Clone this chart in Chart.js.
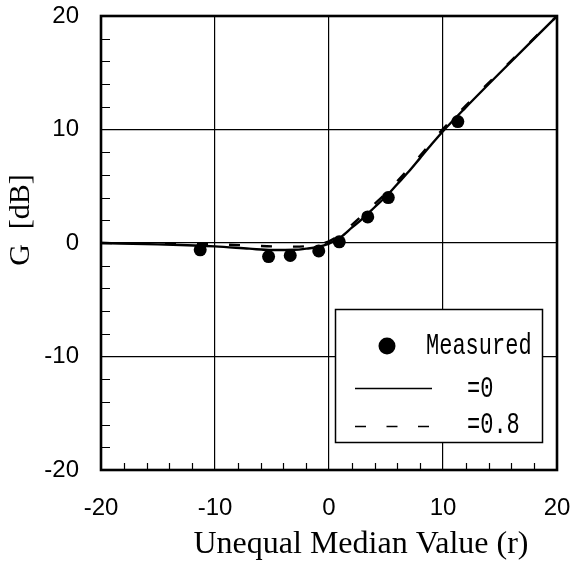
<!DOCTYPE html>
<html>
<head>
<meta charset="utf-8">
<script src="https://cdn.jsdelivr.net/npm/chart.js@4/dist/chart.umd.min.js"></script>
<style>
html,body{margin:0;padding:0;background:#fff;}
#wrap{width:572px;height:568px;}
canvas{display:block;}
</style>
</head>
<body>
<div id="wrap"><canvas id="c" width="572" height="568"></canvas></div>
<script>
// ---- data ----
const measuredR = [-11.3, -5.3, -3.4, -0.9, 0.9, 3.4, 5.2, 11.3];
const measuredG = [-0.6, -1.2, -1.1, -0.7, 0.1, 2.3, 4.0, 10.7];

const rho0R = [-20, -15, -10, -7, -5, -3, -2, -1, 0, 1, 2, 3, 4, 5, 6, 7, 8, 9, 10, 12, 15, 20];
const rho0G = [0, -0.12, -0.3, -0.5, -0.62, -0.6, -0.5, -0.35, -0.05, 0.5, 1.35, 2.2, 3.15, 4.1, 5.2, 6.3, 7.5, 8.7, 9.85, 11.95, 15.0, 20.0];

const rho08R = [-20, -15, -10, -7, -5, -3, -2, -1, 0, 1, 2, 3, 4, 5, 6, 7, 8, 9, 10, 12, 15, 20];
const rho08G = [0, -0.05, -0.12, -0.22, -0.3, -0.32, -0.28, -0.15, 0.15, 0.75, 1.6, 2.5, 3.45, 4.4, 5.45, 6.55, 7.7, 8.9, 10.05, 12.1, 15.1, 20.0];

const seriesLabels = ['Measured', '=0', '=0.8'];
const xTickValues = [-20, -10, 0, 10, 20];
const yTickValues = [-20, -10, 0, 10, 20];
const xTitle = 'Unequal Median Value (r)';
const yTitle = 'G  [dB]';

const toXY = (xs, ys) => xs.map((x, i) => ({x: x, y: ys[i]}));

const minorTicks = {
  id: 'minorTicks',
  afterDatasetsDraw(chart) {
    const {ctx, chartArea: a, scales: {x, y}} = chart;
    ctx.save();
    ctx.strokeStyle = '#000';
    ctx.lineWidth = 1.2;
    ctx.beginPath();
    for (let v = -18; v <= 18; v += 2) {
      if (v % 10 === 0) continue;
      const py = Math.round(y.getPixelForValue(v)) + 0.5;
      ctx.moveTo(a.left, py); ctx.lineTo(a.left + 9, py);
      const px = Math.round(x.getPixelForValue(v)) + 0.5;
      ctx.moveTo(px, a.bottom); ctx.lineTo(px, a.bottom - 7);
    }
    ctx.stroke();
    ctx.lineWidth = 2.6;
    ctx.strokeRect(a.left, a.top, a.right - a.left, a.bottom - a.top);
    ctx.restore();
  }
};

const axisTitles = {
  id: 'axisTitles',
  afterDraw(chart) {
    const {ctx} = chart;
    ctx.save();
    ctx.fillStyle = '#000';
    ctx.textAlign = 'center';
    ctx.textBaseline = 'middle';
    ctx.font = '32px "Liberation Serif", "Times New Roman"';
    ctx.fillText(xTitle, 361, 545);
    ctx.translate(21, 220);
    ctx.rotate(-Math.PI / 2);
    ctx.font = '30px "Liberation Serif", "Times New Roman"';
    ctx.fillText(yTitle, 0, 0);
    ctx.restore();
  }
};

const boxLegend = {
  id: 'boxLegend',
  afterDraw(chart) {
    const {ctx} = chart;
    const ds = chart.data.datasets;
    ctx.save();
    ctx.fillStyle = '#fff';
    ctx.fillRect(335, 309, 208, 134);
    ctx.strokeStyle = '#000';
    ctx.lineWidth = 1.5;
    ctx.strokeRect(335.5, 309.5, 207, 133);
    ctx.fillStyle = ds[0].backgroundColor;
    ctx.beginPath();
    ctx.arc(387, 346, 8.5, 0, Math.PI * 2);
    ctx.fill();
    ctx.strokeStyle = ds[1].borderColor;
    ctx.lineWidth = 1.3;
    ctx.setLineDash([]);
    ctx.beginPath(); ctx.moveTo(355, 388.5); ctx.lineTo(432, 388.5); ctx.stroke();
    ctx.setLineDash([11, 20.5]);
    ctx.beginPath(); ctx.moveTo(355, 426.5); ctx.lineTo(432, 426.5); ctx.stroke();
    ctx.setLineDash([]);
    ctx.fillStyle = '#000';
    ctx.font = '22px "Liberation Mono"';
    ctx.textBaseline = 'middle';
    ctx.textAlign = 'left';
    const rows = [[426, 346, ds[0].label], [467, 389, ds[1].label], [467, 425, ds[2].label]];
    rows.forEach(([tx, ty, t]) => {
      ctx.save();
      ctx.translate(tx, ty);
      ctx.scale(1, 1.3);
      ctx.fillText(t, 0, 0);
      ctx.restore();
    });
    ctx.restore();
  }
};

new Chart(document.getElementById('c'), {
  type: 'scatter',
  data: {
    datasets: [
      {
        label: seriesLabels[0],
        data: toXY(measuredR, measuredG),
        showLine: false,
        pointRadius: 6.5,
        pointHoverRadius: 6.5,
        backgroundColor: '#000',
        borderColor: '#000',
        borderWidth: 0,
        order: 0
      },
      {
        label: seriesLabels[1],
        data: toXY(rho0R, rho0G),
        showLine: true,
        pointRadius: 0,
        borderColor: '#000',
        borderWidth: 2.4,
        cubicInterpolationMode: 'monotone',
        order: 2
      },
      {
        label: seriesLabels[2],
        data: toXY(rho08R, rho08G),
        showLine: true,
        pointRadius: 0,
        borderColor: '#000',
        borderWidth: 2.4,
        borderDash: [11, 21],
        cubicInterpolationMode: 'monotone',
        order: 1
      }
    ]
  },
  options: {
    responsive: false,
    animation: false,
    events: [],
    layout: {padding: {top: 16, right: 15, left: 0, bottom: 0}},
    plugins: {legend: {display: false}, tooltip: {enabled: false}},
    scales: {
      x: {
        type: 'linear', min: -20, max: 20,
        afterBuildTicks: s => { s.ticks = xTickValues.map(v => ({value: v})); },
        afterFit: s => { s.height = 98; s.paddingLeft = 0; s.paddingRight = 0; },
        grid: {color: '#000', lineWidth: 1.2, drawTicks: false},
        border: {display: false},
        ticks: {color: '#000', font: {family: '"Liberation Sans", Arial', size: 24}, padding: 24, maxRotation: 0},
        title: {display: false, text: xTitle}
      },
      y: {
        type: 'linear', min: -20, max: 20,
        afterBuildTicks: s => { s.ticks = yTickValues.map(v => ({value: v})); },
        afterFit: s => { s.width = 101; s.paddingTop = 0; s.paddingBottom = 0; },
        grid: {color: '#000', lineWidth: 1.2, drawTicks: false},
        border: {display: false},
        ticks: {color: '#000', font: {family: '"Liberation Sans", Arial', size: 24}, padding: 22},
        title: {display: false, text: yTitle}
      }
    }
  },
  plugins: [minorTicks, axisTitles, boxLegend]
});
</script>
</body>
</html>
